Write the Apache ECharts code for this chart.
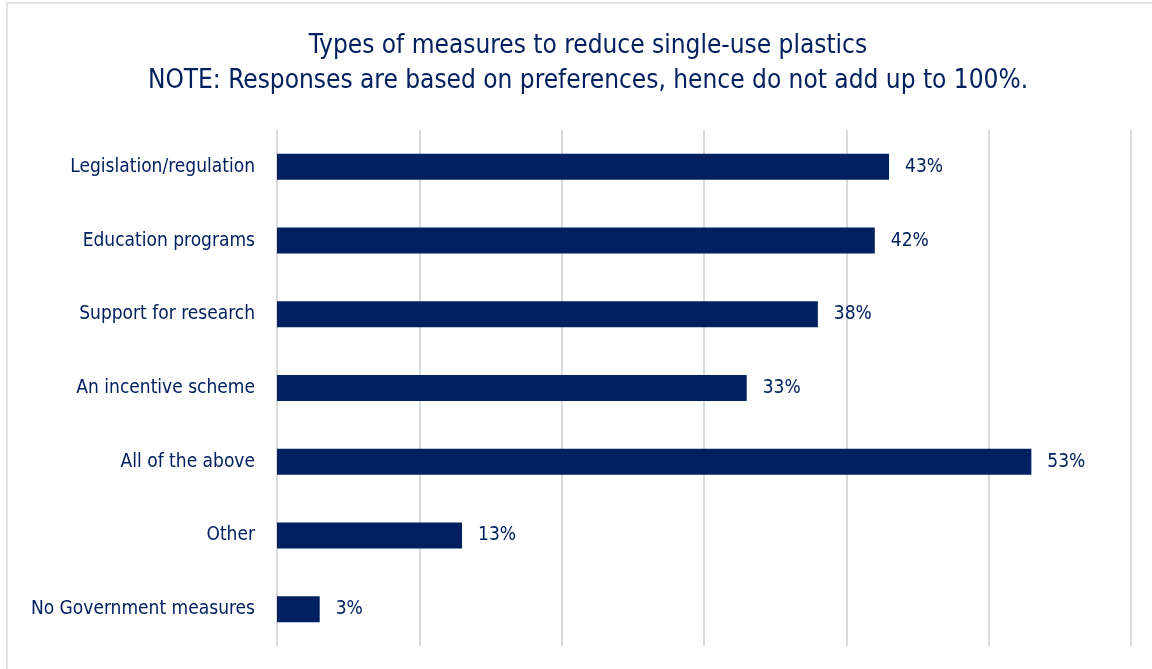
<!DOCTYPE html>
<html>
<head>
<meta charset="utf-8">
<title>Types of measures to reduce single-use plastics</title>
<script src="https://cdn.jsdelivr.net/npm/echarts@6/dist/echarts.min.js"></script>
<style>
  html, body { margin: 0; padding: 0; background: #ffffff; }
  #chart { width: 1152px; height: 669px; }
</style>
</head>
<body>
<div id="chart"></div>
<script>
// Survey responses: preferred measures (share of respondents, %)
const categories = [
  'Legislation/regulation',
  'Education programs',
  'Support for research',
  'An incentive scheme',
  'All of the above',
  'Other',
  'No Government measures'
];
const shares = [43, 42, 38, 33, 53, 13, 3];

const titleLines = [
  'Types of measures to reduce single-use plastics',
  'NOTE: Responses are based on preferences, hence do not add up to 100%.'
];

const NAVY = '#002060';
const FONT = '"Liberation Sans Narrow", "Arial Narrow", "DejaVu Sans Condensed", sans-serif';

const chart = echarts.init(document.getElementById('chart'), null, { renderer: 'canvas' });

chart.setOption({
  backgroundColor: '#ffffff',
  animation: false,
  title: {
    text: titleLines.join('\n'),
    left: 583,
    top: 24,
    textAlign: 'center',
    textStyle: {
      fontFamily: FONT,
      fontSize: 26,
      fontWeight: 'normal',
      color: NAVY,
      lineHeight: 35
    }
  },
  graphic: [{
    type: 'rect',
    silent: true,
    shape: { x: 7, y: 3, width: 1200, height: 720 },
    style: { fill: 'none', stroke: '#d9d9d9', lineWidth: 1.5 }
  }],
  grid: {
    left: 277,
    right: 21,
    top: 130,
    height: 516,
    containLabel: false,
    outerBoundsMode: 'none'
  },
  xAxis: {
    type: 'value',
    min: 0,
    max: 60,
    interval: 10,
    axisLabel: { show: false },
    axisLine: { show: false },
    axisTick: { show: false },
    splitLine: { show: true, lineStyle: { color: '#d9d9d9', width: 2 } }
  },
  yAxis: {
    type: 'category',
    data: categories,
    inverse: true,
    axisLine: { show: false },
    axisTick: { show: false },
    axisLabel: {
      margin: 22,
      fontFamily: FONT,
      fontSize: 19,
      color: NAVY
    }
  },
  series: [{
    type: 'bar',
    data: shares,
    barWidth: 26,
    itemStyle: { color: NAVY },
    label: {
      show: true,
      position: 'right',
      distance: 16,
      formatter: p => p.value + '%',
      fontFamily: FONT,
      fontSize: 19,
      color: NAVY
    }
  }]
});
</script>
</body>
</html>
